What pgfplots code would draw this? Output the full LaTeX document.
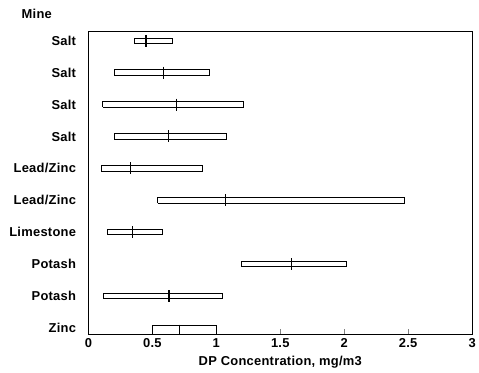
\documentclass[border=0pt]{standalone}
\usepackage{fontspec}
\setmainfont{Liberation Sans}
\usepackage{pgfplots}
\pgfplotsset{compat=1.18}
\newcommand{\lf}{\fontsize{13}{15}\selectfont\bfseries\addfontfeatures{LetterSpace=2}}
\begin{document}
\begin{tikzpicture}
\begin{axis}[
  scale only axis, width=386pt, height=305pt,
  xmin=0, xmax=3, ymin=0.78, ymax=10.28,
  xtick={0,0.5,1,1.5,2,2.5,3},
  xticklabels={0,0.5,1,1.5,2,2.5,3},
  ytick={1,2,3,4,5,6,7,8,9,10},
  yticklabels={Zinc,Potash,Potash,Limestone,Lead/Zinc,Lead/Zinc,Salt,Salt,Salt,Salt},
  ytick style={draw=none},
  xtick pos=bottom, tick align=inside, major tick length=6pt,
  xtick style={line width=1pt},
  ticklabel style={font=\lf},
  yticklabel style={xshift=-9pt},
  /pgf/number format/assume math mode=true,
  xlabel={DP Concentration, mg/m3},
  xlabel style={font=\lf, at={(axis description cs:0.5,0)}, anchor=center, yshift=-27pt},
  axis line style={line width=0.9pt},
  clip=false,
]
% range boxes
\addplot[black, line width=0.9pt, fill=white] coordinates {(0.36,9.915) (0.66,9.915) (0.66,10.085) (0.36,10.085) (0.36,9.915)};
\addplot[black, line width=0.9pt, fill=white] coordinates {(0.20,8.915) (0.95,8.915) (0.95,9.085) (0.20,9.085) (0.20,8.915)};
\addplot[black, line width=0.9pt, fill=white] coordinates {(0.11,7.915) (1.21,7.915) (1.21,8.085) (0.11,8.085) (0.11,7.915)};
\addplot[black, line width=0.9pt, fill=white] coordinates {(0.20,6.915) (1.08,6.915) (1.08,7.085) (0.20,7.085) (0.20,6.915)};
\addplot[black, line width=0.9pt, fill=white] coordinates {(0.10,5.915) (0.89,5.915) (0.89,6.085) (0.10,6.085) (0.10,5.915)};
\addplot[black, line width=0.9pt, fill=white] coordinates {(0.54,4.915) (2.47,4.915) (2.47,5.085) (0.54,5.085) (0.54,4.915)};
\addplot[black, line width=0.9pt, fill=white] coordinates {(0.15,3.915) (0.58,3.915) (0.58,4.085) (0.15,4.085) (0.15,3.915)};
\addplot[black, line width=0.9pt, fill=white] coordinates {(1.20,2.915) (2.02,2.915) (2.02,3.085) (1.20,3.085) (1.20,2.915)};
\addplot[black, line width=0.9pt, fill=white] coordinates {(0.12,1.915) (1.05,1.915) (1.05,2.085) (0.12,2.085) (0.12,1.915)};
\addplot[black, line width=0.9pt, fill=white] coordinates {(0.50,0.78) (1.00,0.78) (1.00,1.08) (0.50,1.08) (0.50,0.78)};
% central marks
\addplot[black, only marks, mark=|, mark size=6pt, mark options={line width=1.1pt}] coordinates {
  (0.45,10) (0.59,9) (0.69,8) (0.625,7) (0.33,6) (1.07,5) (0.345,4) (1.59,3) (0.63,2)};
\addplot[black, only marks, mark=|, mark size=5pt, mark options={line width=1.1pt}] coordinates {(0.71,0.95)};
\node[font=\lf] at (rel axis cs:0,1) [xshift=-52pt, yshift=18pt] {Mine};
\end{axis}
\path (current axis.south west) ++(-89pt,-38pt) coordinate (bl);
\path (current axis.north east) ++(4pt,32pt) coordinate (tr);
\path (bl) rectangle (tr);
\end{tikzpicture}
\end{document}
